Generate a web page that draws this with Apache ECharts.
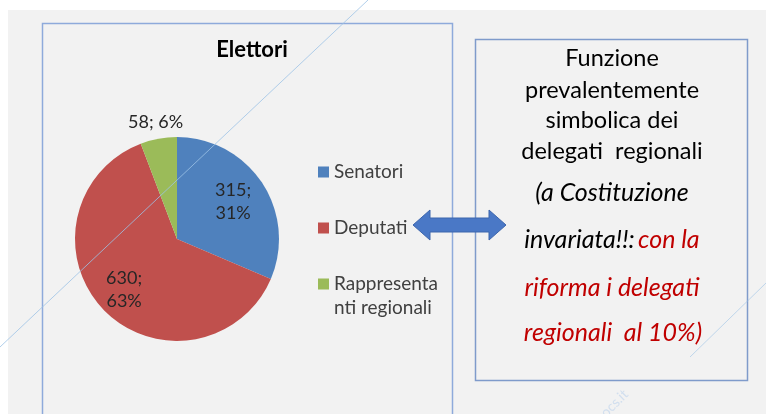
<!DOCTYPE html>
<html>
<head>
<meta charset="utf-8">
<script src="https://cdn.jsdelivr.net/npm/echarts@6/dist/echarts.min.js"></script>
<style>
html,body{margin:0;padding:0;background:#ffffff;}
#chart{width:766px;height:414px;}
</style>
</head>
<body>
<div id="chart"></div>
<script>
var chartTitle = 'Elettori';
var categories = ['Senatori', 'Deputati', 'Rappresentanti regionali'];
var values = [315, 630, 58];
var legendLabels = ['Senatori', 'Deputati', 'Rappresenta\nnti regionali'];
var boxLines = ['Funzione', 'prevalentemente', 'simbolica dei', 'delegati  regionali'];

var FONT = 'Lato, "Open Sans", sans-serif';
var colors = ['#4f81bd', '#c0504d', '#9bbb59'];
var R = 102;
var labelFrac = [0.63, 0.69, 1.13];
var total = values.reduce(function (a, b) { return a + b; }, 0);

var chart = echarts.init(document.getElementById('chart'), null, {renderer: 'canvas'});

var data = categories.map(function (c, i) {
  return {
    name: c,
    value: values[i],
    itemStyle: {color: colors[i]},
    label: {formatter: i === 2 ? '{c}; {d}%' : '{c};\n{d}%'}
  };
});

// pad every legend label to three lines so the marker lines up with the first text line
function legendText(name) {
  var t = legendLabels[categories.indexOf(name)];
  var n = t.split('\n').length;
  return '\n' + t + (n === 1 ? '\n' : '');
}

var boxLineY = [58, 90, 120, 151];
var graphics = [
  {type: 'rect', z: -10, silent: true, shape: {x: 8, y: 10, width: 758, height: 404}, style: {fill: '#f2f2f2'}},
  {type: 'rect', z: -9, silent: true, shape: {x: 42.5, y: 23.5, width: 410, height: 420}, style: {fill: 'none', stroke: '#8eaadb', lineWidth: 1.5}},
  {type: 'rect', z: -9, silent: true, shape: {x: 475.5, y: 39.5, width: 272, height: 341}, style: {fill: 'none', stroke: '#7f9bcb', lineWidth: 1.5}},
  {type: 'polygon', z: 5, silent: true,
    shape: {points: [[413, 225], [430, 210], [430, 218], [489, 218], [489, 210], [506, 225], [489, 240], [489, 232], [430, 232], [430, 240]]},
    style: {fill: '#4a78c6', stroke: '#3d66ad', lineWidth: 1}}
];
boxLines.forEach(function (t, i) {
  graphics.push({type: 'text', z: 5, silent: true, style: {x: 612, y: boxLineY[i], text: t, align: 'center', verticalAlign: 'middle',
    fontFamily: FONT, fontSize: 23.5, fill: '#000000'}});
});
graphics.push(
  {type: 'text', z: 5, silent: true, style: {x: 612, y: 193, text: '(a Costituzione', align: 'center', verticalAlign: 'middle',
    fontFamily: FONT, fontSize: 25, fontStyle: 'italic', fill: '#000000'}},
  {type: 'text', z: 5, silent: true, style: {x: 612, y: 240, align: 'center', verticalAlign: 'middle',
    text: '{k|invariata!!:} {r|con la}',
    rich: {k: {fontFamily: FONT, fontSize: 25, fontStyle: 'italic', fill: '#000000'}, r: {fontFamily: FONT, fontSize: 25, fontStyle: 'italic', fill: '#c00000'}}}},
  {type: 'text', z: 5, silent: true, style: {x: 612, y: 288, text: 'riforma i delegati', align: 'center', verticalAlign: 'middle',
    fontFamily: FONT, fontSize: 25, fontStyle: 'italic', fill: '#c00000'}},
  {type: 'text', z: 5, silent: true, style: {x: 613, y: 333, text: 'regionali  al 10%)', align: 'center', verticalAlign: 'middle',
    fontFamily: FONT, fontSize: 25, fontStyle: 'italic', fill: '#c00000'}},
  {type: 'line', z: 20, silent: true, shape: {x1: 0, y1: 347, x2: 368, y2: 0}, style: {stroke: '#9dc3e6', lineWidth: 1, opacity: 0.8}},
  {type: 'line', z: 20, silent: true, shape: {x1: 690, y1: 357, x2: 766, y2: 283}, style: {stroke: '#9dc3e6', lineWidth: 1, opacity: 0.6}},
  {type: 'text', z: 20, silent: true, rotation: Math.PI / 4, x: 598, y: 410,
    style: {text: 'ocs.it', fontFamily: FONT, fontSize: 14, fill: '#c9d9ee', opacity: 0.8}}
);

var option = {
  backgroundColor: '#ffffff',
  animation: false,
  title: {
    text: chartTitle,
    left: 247,
    top: 34,
    textAlign: 'center',
    textStyle: {fontFamily: FONT, fontSize: 22, fontWeight: 'bold', color: '#000000'}
  },
  legend: {
    orient: 'vertical',
    left: 318,
    top: 136,
    padding: 0,
    itemWidth: 11,
    itemHeight: 11,
    itemGap: -16,
    icon: 'rect',
    selectedMode: false,
    data: categories,
    formatter: legendText,
    textStyle: {fontFamily: FONT, fontSize: 19, color: '#404040', lineHeight: 24}
  },
  graphic: graphics,
  series: [{
    type: 'pie',
    center: [177, 239],
    radius: R,
    startAngle: 90,
    clockwise: true,
    percentPrecision: 0,
    silent: true,
    label: {
      show: true,
      position: 'inside',
      fontFamily: FONT,
      fontSize: 18,
      lineHeight: 23,
      color: '#262626'
    },
    labelLine: {show: false},
    labelLayout: function (p) {
      var i = p.dataIndex;
      var cum = 0;
      for (var j = 0; j < i; j++) cum += values[j];
      var mid = (cum + values[i] / 2) / total * 2 * Math.PI;
      var d = (labelFrac[i] - 0.5) * R;
      return {dx: d * Math.sin(mid), dy: -d * Math.cos(mid)};
    },
    data: data
  }]
};
chart.setOption(option);
</script>
</body>
</html>
